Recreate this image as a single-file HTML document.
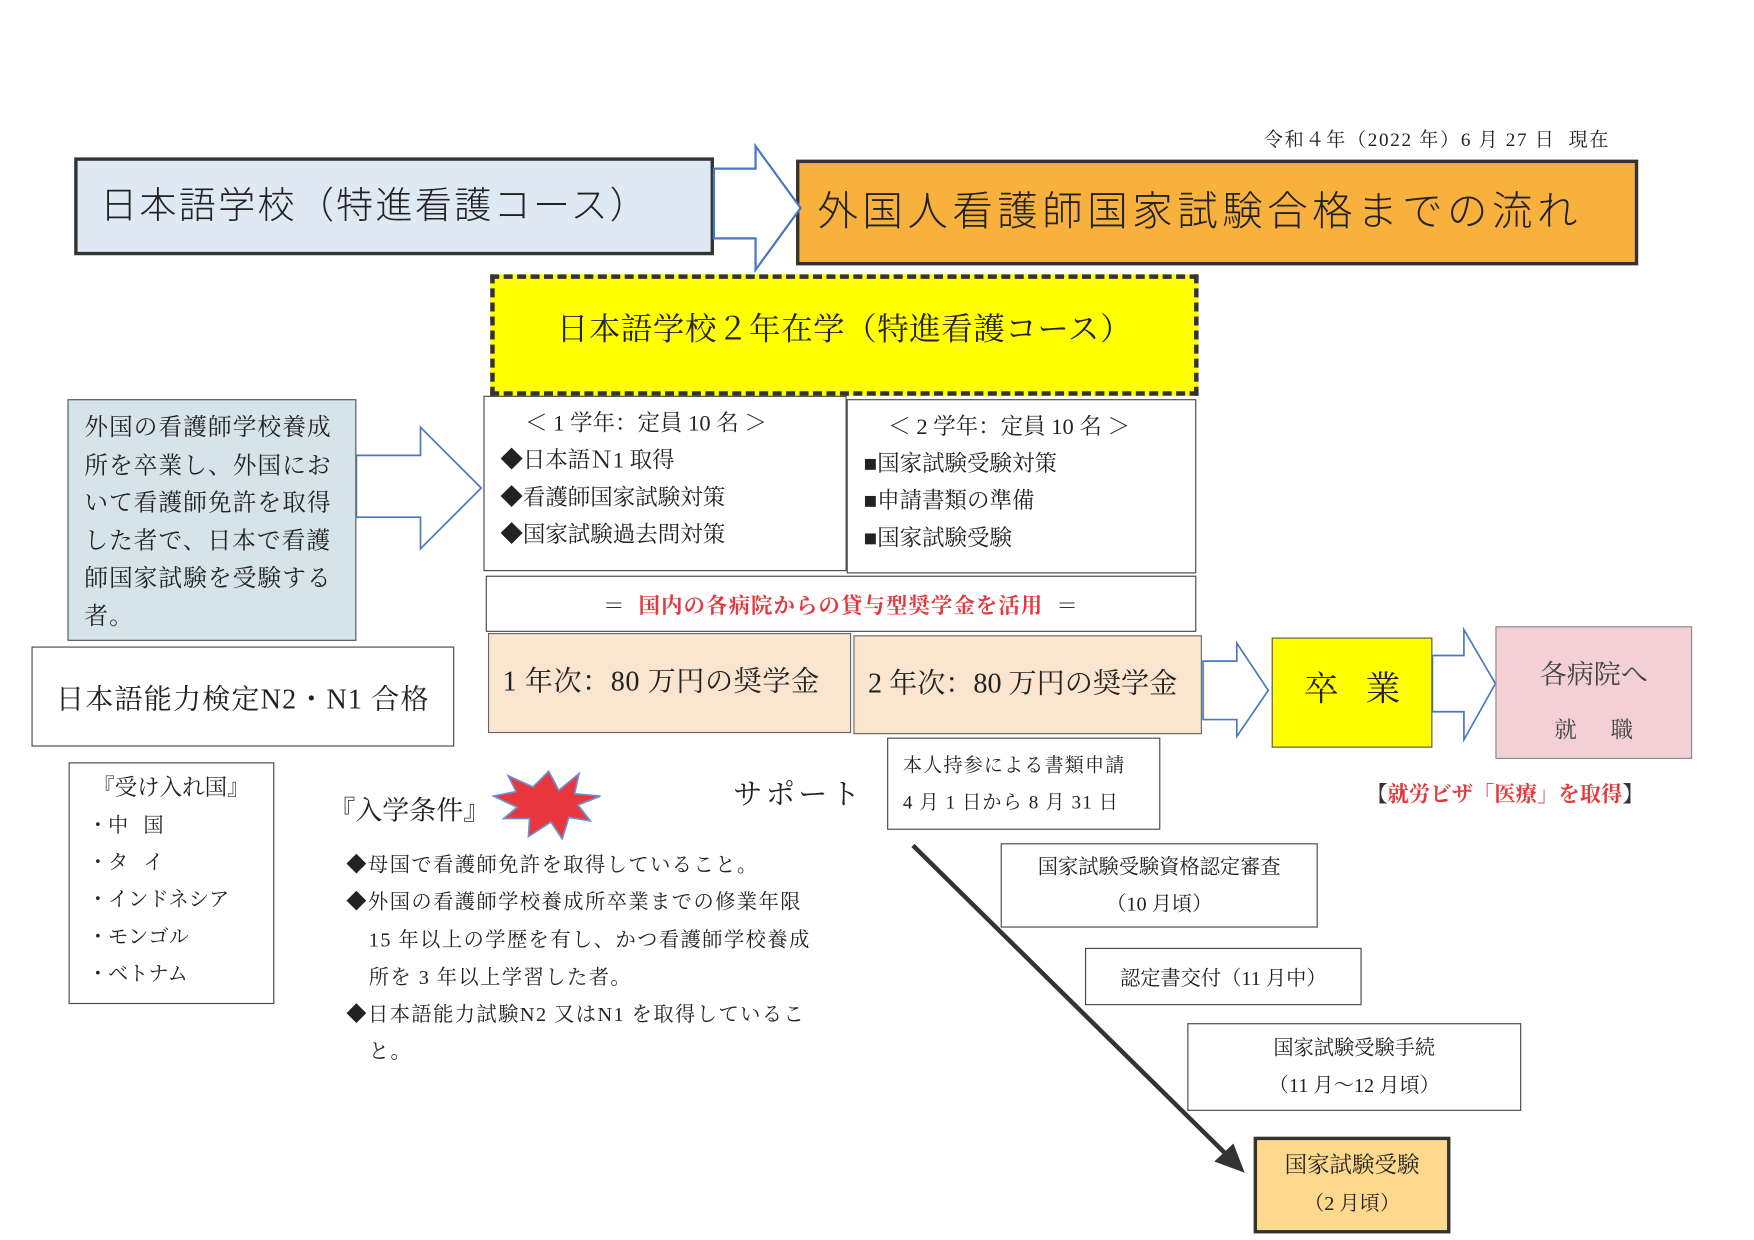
<!DOCTYPE html>
<html><head><meta charset="utf-8"><style>
html,body{margin:0;padding:0;background:#fff;width:1754px;height:1240px;overflow:hidden}
#w{position:absolute;left:0;top:0;width:1560px;height:1103px;transform:scale(1.12436);transform-origin:0 0}
.b{position:absolute;box-sizing:border-box}
.s{font-family:"Liberation Serif","Noto Serif CJK SC",serif;color:#222}
.g{font-family:"Liberation Sans","Noto Sans CJK JP",sans-serif;color:#222;font-weight:300}
.c{display:flex;align-items:center;justify-content:center;text-align:center;flex-direction:column}
</style></head><body><div id="w">
<div class="b s" style="left:1124px;top:110px;font-size:17px;white-space:nowrap;letter-spacing:1.5px">令和４年（2022 年）6 月 27 日&nbsp; 現在</div>

<div class="b g" style="left:66px;top:140px;width:569px;height:87px;background:#dfe9f4;border:3px solid #333;font-size:33px;letter-spacing:2px;padding-left:20px;line-height:80px;white-space:nowrap">日本語学校（特進看護コース）</div>
<div class="b g" style="left:708px;top:142px;width:749px;height:94px;background:#f8b13c;border:3px solid #333;font-size:36px;letter-spacing:4px;padding-left:16px;line-height:86px;white-space:nowrap">外国人看護師国家試験合格までの流れ</div>

<svg class="b" style="left:0;top:0" width="1560" height="1103">
<polygon points="635,150 672,150 672,130 712,185 672,240 672,212 635,212" fill="#fff" stroke="#4a78c0" stroke-width="2"/>
<polygon points="317,405 374,405 374,380 428,434 374,488 374,460 317,460" fill="#fff" stroke="#4a78c0" stroke-width="1.5"/>
<polygon points="1070,588 1100,588 1100,572 1128,614 1100,655 1100,640 1070,640" fill="#fff" stroke="#4a78c0" stroke-width="1.5"/>
<polygon points="1274,583 1302,583 1302,560 1330,608 1302,658 1302,633 1274,633" fill="#fff" stroke="#4a78c0" stroke-width="1.5"/>
<polygon points="488,686 497,703 515,688 511,706 534,708 514,716 525,730 506,727 500,746 490,731 470,744 471,728 448,728 460,718 439,708 459,704 452,690 474,700" fill="#e8383d" stroke="#6b8fd0" stroke-width="1.5"/>
<line x1="812" y1="752" x2="1094" y2="1030" stroke="#333" stroke-width="4"/>
<polygon points="1107,1043 1080,1033 1097,1017" fill="#333"/>
</svg>

<div class="b s c" style="left:436px;top:244px;width:630px;height:108px;background:#ffff00;border:4px dashed #333;font-size:28px;letter-spacing:0.5px;padding-bottom:14px">日本語学校２年在学（特進看護コース）</div>

<div class="b s" style="left:60px;top:355px;width:257px;height:215px;background:#d6e3e8;border:1px solid #555;font-size:21px;letter-spacing:1px;line-height:33.5px;padding:8px 6px 0 14px">外国の看護師学校養成所を卒業し、外国において看護師免許を取得した者で、日本で看護師国家試験を受験する者。</div>

<div class="b s" style="left:430px;top:352px;width:323px;height:156px;border:1px solid #444;font-size:20px;line-height:33px;padding:8px 0 0 14px">
<div style="padding-left:22px">＜ 1 学年：定員 10 名 ＞</div>◆日本語Ｎ1 取得<br>◆看護師国家試験対策<br>◆国家試験過去問対策</div>
<div class="b s" style="left:753px;top:355px;width:311px;height:155px;border:1px solid #444;font-size:20px;line-height:33px;padding:8px 0 0 14px">
<div style="padding-left:22px">＜ 2 学年：定員 10 名 ＞</div>■国家試験受験対策<br>■申請書類の準備<br>■国家試験受験</div>

<div class="b s c" style="left:432px;top:512px;width:632px;height:50px;border:1px solid #444;font-size:19px;font-weight:bold;color:#e03a3e;white-space:nowrap;letter-spacing:1px"><span><span style="color:#333;font-weight:normal">＝&nbsp; </span>国内の各病院からの貸与型奨学金を活用<span style="color:#333;font-weight:normal"> &nbsp;＝</span></span></div>

<div class="b s c" style="left:28px;top:575px;width:376px;height:89px;border:1px solid #444;font-size:25px;letter-spacing:1px;white-space:nowrap">日本語能力検定N2・N1 合格</div>
<div class="b s" style="left:434px;top:563px;width:323px;height:89px;background:#fbe5ce;border:1px solid #666;font-size:25px;letter-spacing:0.5px;padding:22px 0 0 12px;white-space:nowrap">1 年次：80 万円の奨学金</div>
<div class="b s" style="left:759px;top:565px;width:310px;height:88px;background:#fbe5ce;border:1px solid #666;font-size:25px;padding:22px 0 0 12px;white-space:nowrap">2 年次：80 万円の奨学金</div>
<div class="b s c" style="left:1131px;top:567px;width:143px;height:98px;background:#ffff00;border:1px solid #555;font-size:31px;letter-spacing:24px;padding-left:24px;padding-bottom:14px">卒業</div>
<div class="b s" style="left:1330px;top:557px;width:175px;height:118px;background:#f2d0d5;border:1px solid #888;font-size:24px;text-align:center;color:#444"><div style="margin-top:22px">各病院へ</div><div style="font-size:20px;margin-top:18px;letter-spacing:30px;padding-left:30px">就職</div></div>

<div class="b s" style="left:789px;top:656px;width:243px;height:82px;border:1px solid #444;font-size:17px;letter-spacing:1px;line-height:33px;padding:7px 0 0 13px">本人持参による書類申請<br>4 月 1 日から 8 月 31 日</div>
<div class="b s" style="left:1215px;top:692px;font-size:19px;font-weight:bold;color:#e03a3e;white-space:nowrap"><span style="color:#333">【</span>就労ビザ「医療」を取得<span style="color:#333">】</span></div>

<div class="b s" style="left:61px;top:678px;width:183px;height:215px;border:1px solid #444;font-size:18px;line-height:33px;padding:6px 0 0 16px"><div style="font-size:20px;padding-left:4px">『受け入れ国』</div>・中&nbsp;&nbsp; 国<br>・タ&nbsp;&nbsp; イ<br>・インドネシア<br>・モンゴル<br>・ベトナム</div>

<div class="b s" style="left:292px;top:701px;font-size:24px;white-space:nowrap">『入学条件』</div>
<div class="b s" style="left:652px;top:686px;font-size:26px;letter-spacing:3px;white-space:nowrap">サポート</div>
<div class="b s" style="left:308px;top:753px;width:460px;font-size:18px;letter-spacing:1.3px;line-height:33.3px;white-space:nowrap">◆母国で看護師免許を取得していること。<br>◆外国の看護師学校養成所卒業までの修業年限<br><span style="padding-left:20px">15 年以上の学歴を有し、かつ看護師学校養成</span><br><span style="padding-left:20px">所を 3 年以上学習した者。</span><br>◆日本語能力試験N2 又はN1 を取得しているこ<br><span style="padding-left:20px">と。</span></div>

<div class="b s c" style="left:890px;top:750px;width:282px;height:75px;border:1px solid #444;font-size:18px;line-height:33px">国家試験受験資格認定審査<br>（10 月頃）</div>
<div class="b s c" style="left:965px;top:843px;width:246px;height:51px;border:1px solid #444;font-size:18px">認定書交付（11 月中）</div>
<div class="b s c" style="left:1056px;top:910px;width:297px;height:78px;border:1px solid #444;font-size:18px;line-height:33px">国家試験受験手続<br>（11 月～12 月頃）</div>
<div class="b s c" style="left:1115px;top:1011px;width:175px;height:86px;background:#fcd98c;border:3px solid #333;font-size:20px;line-height:33px">国家試験受験<br><span style="font-size:18px">（2 月頃）</span></div>
</div></body></html>
